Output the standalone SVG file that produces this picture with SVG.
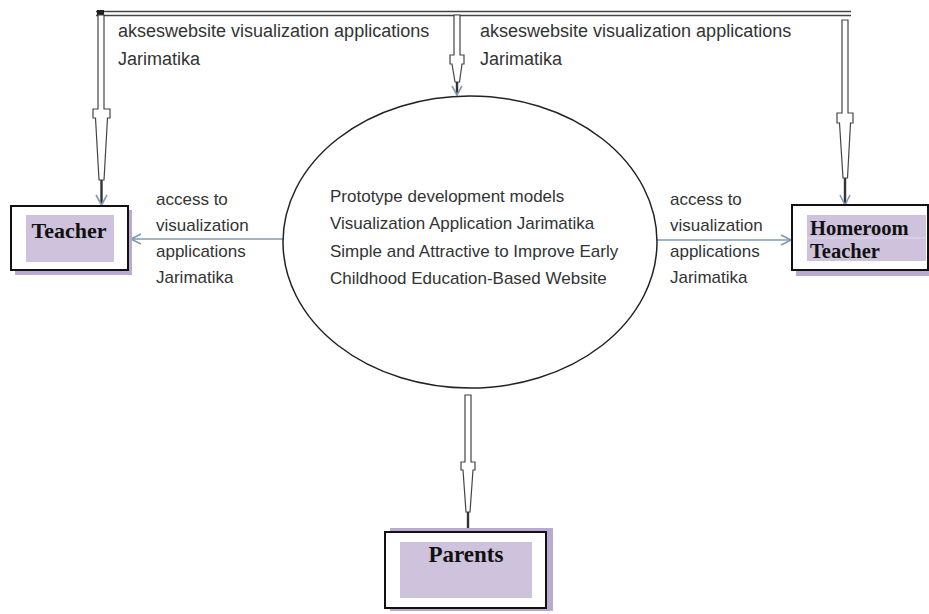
<svg xmlns="http://www.w3.org/2000/svg" width="929" height="614" viewBox="0 0 929 614">
  <style>
    .lbl { font-family: "Liberation Sans", Arial, sans-serif; font-size: 17px; fill: #333; }
    .top { font-size: 18px; }
    .name { font-family: "Liberation Serif", "Times New Roman", serif; font-weight: bold; fill: #111; }
    .box { fill: #fff; stroke: #111; stroke-width: 2; }
    .inner { fill: #cec2dc; }
    .shadow { fill: #b9abcf; }
    .hollow { fill: #fff; stroke: #444; stroke-width: 1.2; }
    .stem { stroke: #333; stroke-width: 2.4; fill: none; }
    .tipv { stroke: #7f9bb3; stroke-width: 1.6; fill: none; }
    .flow { stroke: #7f9bb3; stroke-width: 1.6; fill: none; }
  </style>
  <defs>
    <marker id="open" viewBox="0 0 12 12" refX="11" refY="6" markerWidth="12" markerHeight="12" markerUnits="userSpaceOnUse" orient="auto">
      <path d="M1,1 L11,6 L1,11" fill="none" stroke="#7f9bb3" stroke-width="1.6"/>
    </marker>
  </defs>
  <rect width="929" height="614" fill="#fff"/>

  <g id="connectors">
    <!-- top double bus line -->
    <line x1="96" y1="11.5" x2="851" y2="11.5" stroke="#444" stroke-width="1.4"/>
    <line x1="96" y1="15.5" x2="851" y2="15.5" stroke="#444" stroke-width="1.4"/>
    <rect x="97" y="10" width="7" height="6" fill="#222"/>

    <!-- drop to Teacher -->
    <path class="hollow" d="M98,15 V109 H93 V118 H95.5 L99,180 H104 L107.5,118 H110 V109 H104 V15 Z"/>
    <line class="stem" x1="101.5" y1="180" x2="101.5" y2="204"/>
    <path class="tipv" d="M96,195 L101.5,205 L107,195"/>

    <!-- drop to center ellipse -->
    <path class="hollow" d="M454,15 V55 H450 V64 H452 L455,82 H459.5 L462,64 H464 V55 H460 V15 Z"/>
    <line class="stem" x1="457" y1="82" x2="457" y2="94"/>
    <path class="tipv" d="M452,86 L457,95 L462,86"/>

    <!-- drop to Homeroom Teacher -->
    <path class="hollow" d="M842,20 V113 H837 V123 H839.5 L843,178 H847.5 L850.5,123 H853 V113 H848 V20 Z"/>
    <line class="stem" x1="845" y1="178" x2="845" y2="204"/>
    <path class="tipv" d="M840,195 L845,205 L850,195"/>

    <!-- ellipse to Parents -->
    <path class="hollow" d="M465,395 V462 H461 V470 H463 L466,512 H470 L473,470 H475 V462 H471 V395 Z"/>
    <line class="stem" x1="468" y1="512" x2="468" y2="529"/>

    <!-- side connectors -->
    <line class="flow" x1="283" y1="239" x2="131" y2="239" marker-end="url(#open)"/>
    <line class="flow" x1="657" y1="240" x2="791" y2="240" marker-end="url(#open)"/>

    <text class="lbl top" x="118" y="37">akseswebsite visualization applications</text>
    <text class="lbl top" x="118" y="65">Jarimatika</text>
    <text class="lbl top" x="480" y="37">akseswebsite visualization applications</text>
    <text class="lbl top" x="480" y="65">Jarimatika</text>

    <text class="lbl" x="156" y="205">access to</text>
    <text class="lbl" x="156" y="231">visualization</text>
    <text class="lbl" x="156" y="257">applications</text>
    <text class="lbl" x="156" y="283">Jarimatika</text>

    <text class="lbl" x="670" y="205">access to</text>
    <text class="lbl" x="670" y="231">visualization</text>
    <text class="lbl" x="670" y="257">applications</text>
    <text class="lbl" x="670" y="283">Jarimatika</text>
  </g>

  <g id="process">
    <ellipse cx="470" cy="242" rx="187" ry="146" fill="#fff" stroke="#222" stroke-width="1.5"/>
    <text class="lbl" x="330" y="202">Prototype development models</text>
    <text class="lbl" x="330" y="229">Visualization Application Jarimatika</text>
    <text class="lbl" x="330" y="257">Simple and Attractive to Improve Early</text>
    <text class="lbl" x="330" y="284">Childhood Education-Based Website</text>
  </g>

  <g id="teacher">
    <rect class="shadow" x="15" y="210" width="117" height="65"/>
    <rect class="box" x="11" y="206" width="117" height="64"/>
    <rect class="inner" x="26" y="215" width="88" height="47"/>
    <text class="name" x="69" y="238" font-size="22" text-anchor="middle">Teacher</text>
  </g>

  <g id="homeroom-teacher">
    <rect class="shadow" x="796" y="209" width="133" height="67"/>
    <rect class="box" x="792" y="205" width="136" height="65"/>
    <rect class="inner" x="807" y="215" width="119" height="46"/>
    <line x1="807" y1="238" x2="926" y2="238" stroke="#e4dcec" stroke-width="1"/>
    <text class="name" x="810" y="235" font-size="20.5">Homeroom</text>
    <text class="name" x="810" y="258" font-size="20.5">Teacher</text>
  </g>

  <g id="parents">
    <rect class="shadow" x="390" y="528" width="163" height="83" fill="#c9bcdc"/>
    <rect class="box" x="385" y="532" width="161" height="76"/>
    <rect class="inner" x="400" y="542" width="132" height="56"/>
    <text class="name" x="466" y="562" font-size="23" text-anchor="middle">Parents</text>
  </g>
</svg>
